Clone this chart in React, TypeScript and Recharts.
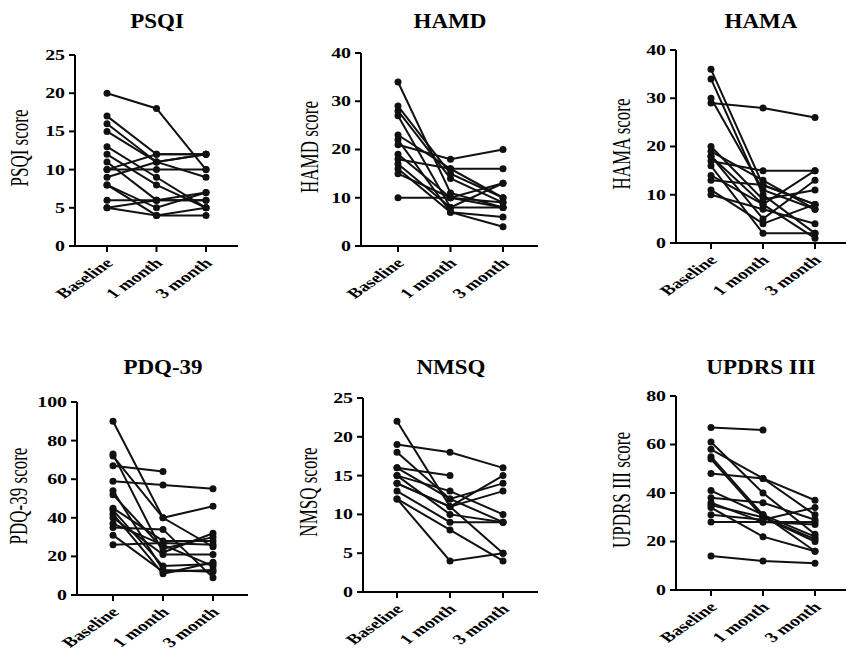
import { CartesianGrid, Line, LineChart, XAxis, YAxis } from "recharts";

const TIMEPOINTS = ["Baseline", "1 month", "3 month"];

// one row per subject: [baseline, 1 month, 3 month]
const PSQI_SUBJECTS: (number | null)[][] = [
  [20, 18, 10],
  [17, 12, 12],
  [16, 11, 9],
  [15, 11, 12],
  [13, 9, 5],
  [12, 8, 5],
  [11, 6, 6],
  [10, 10, 10],
  [10, 12, 12],
  [9, 11, 12],
  [8, 5, 7],
  [8, 4, 4],
  [6, 6, 6],
  [5, 6, 7],
  [5, 4, 5],
];

const HAMD_SUBJECTS: (number | null)[][] = [
  [34, 11, 8],
  [29, 15, 10],
  [28, 14, 9],
  [27, 8, 13],
  [23, 16, 16],
  [22, 7, 4],
  [21, 18, 20],
  [19, 10, 13],
  [18, 16, 10],
  [17, 8, 8],
  [16, 7, 6],
  [15, 10, 8],
  [10, 10, 9],
];

const HAMA_SUBJECTS: (number | null)[][] = [
  [29, 28, 26],
  [36, 12, 8],
  [34, 10, 2],
  [30, 11, 7],
  [17, 15, 15],
  [20, 9, 11],
  [19, 13, 7],
  [18, 5, 13],
  [16, 2, 2],
  [14, 8, 15],
  [13, 12, 8],
  [11, 4, 8],
  [10, 7, 4],
  [18, 8, 1],
];

const PDQ39_SUBJECTS: (number | null)[][] = [
  [67, 64, null],
  [59, 57, 55],
  [90, 40, 46],
  [72, 40, 25],
  [73, 22, 32],
  [54, 13, 12],
  [52, 24, 30],
  [45, 28, 28],
  [42, 11, 17],
  [40, 21, 21],
  [37, 26, 15],
  [35, 34, 9],
  [31, 12, 13],
  [26, 27, 26],
  [44, 15, 16],
];

const NMSQ_SUBJECTS: (number | null)[][] = [
  [22, 11, 5],
  [19, 18, 16],
  [18, 12, 9],
  [16, 15, null],
  [15, 13, 10],
  [14, 11, 15],
  [13, 9, 9],
  [12, 4, 5],
  [12, 8, 4],
  [16, 12, 14],
  [14, 11, 13],
  [15, 10, 9],
];

const UPDRS_SUBJECTS: (number | null)[][] = [
  [67, 66, null],
  [14, 12, 11],
  [61, 40, 23],
  [58, 46, 37],
  [55, 31, 16],
  [54, 30, 21],
  [48, 46, 31],
  [41, 31, 22],
  [38, 36, 29],
  [36, 28, 27],
  [35, 30, 20],
  [34, 22, 16],
  [31, 29, 34],
  [28, 28, 28],
];

const PSQI_TICKS = [0, 5, 10, 15, 20, 25];
const HAMD_TICKS = [0, 10, 20, 30, 40];
const HAMA_TICKS = [0, 10, 20, 30, 40];
const PDQ39_TICKS = [0, 20, 40, 60, 80, 100];
const NMSQ_TICKS = [0, 5, 10, 15, 20, 25];
const UPDRS_TICKS = [0, 20, 40, 60, 80];

const FONT = '"Liberation Serif", "Times New Roman", serif';
const STRETCH = 1.42;

type Panel = {
  title: string;
  label: string;
  subjects: (number | null)[][];
  ticks: number[];
  // pixel geometry of the plot box
  axisX: number;
  top: number;
  bottom: number;
  end: number;
  firstTick: number;
  lastTick: number;
  labelX: number;
  titleY: number;
};

const PANELS: Panel[] = [
  { title: "PSQI", label: "PSQI score", subjects: PSQI_SUBJECTS, ticks: PSQI_TICKS, axisX: 75, top: 55, bottom: 246, end: 238, firstTick: 107, lastTick: 206, labelX: 20, titleY: 21 },
  { title: "HAMD", label: "HAMD score", subjects: HAMD_SUBJECTS, ticks: HAMD_TICKS, axisX: 361, top: 53, bottom: 246, end: 538, firstTick: 398, lastTick: 503, labelX: 310, titleY: 21 },
  { title: "HAMA", label: "HAMA score", subjects: HAMA_SUBJECTS, ticks: HAMA_TICKS, axisX: 676, top: 50, bottom: 243, end: 846, firstTick: 711, lastTick: 815, labelX: 622, titleY: 21 },
  { title: "PDQ-39", label: "PDQ-39 score", subjects: PDQ39_SUBJECTS, ticks: PDQ39_TICKS, axisX: 77, top: 402, bottom: 595, end: 248, firstTick: 113, lastTick: 213, labelX: 19, titleY: 367 },
  { title: "NMSQ", label: "NMSQ score", subjects: NMSQ_SUBJECTS, ticks: NMSQ_TICKS, axisX: 363, top: 398, bottom: 592, end: 538, firstTick: 397, lastTick: 503, labelX: 309, titleY: 367 },
  { title: "UPDRS III", label: "UPDRS III score", subjects: UPDRS_SUBJECTS, ticks: UPDRS_TICKS, axisX: 676, top: 396, bottom: 590, end: 846, firstTick: 711, lastTick: 815, labelX: 622, titleY: 367 },
];

const Y_AXIS_W = 70;
const TOP_PAD = 10;
const X_AXIS_H = 60;

function XTick({ x, y, payload }: any) {
  return (
    <text
      transform={`translate(${x + 7},${y + 10}) scale(${STRETCH},1) rotate(-45)`}
      textAnchor="end"
      fontFamily={FONT}
      fontWeight="bold"
      fontSize={14}
      fill="#000"
    >
      {payload.value}
    </text>
  );
}

function YTick({ x, y, payload }: any) {
  return (
    <text
      transform={`translate(${x},${y}) scale(${STRETCH},1)`}
      textAnchor="end"
      dy="0.35em"
      fontFamily={FONT}
      fontWeight="bold"
      fontSize={14}
      fill="#000"
    >
      {payload.value}
    </text>
  );
}

function SpaghettiPanel({ p }: { p: Panel }) {
  const data = TIMEPOINTS.map((t, i) => {
    const row: Record<string, string | number | null> = { time: t };
    p.subjects.forEach((s, k) => {
      row[`s${k}`] = s[i];
    });
    return row;
  });
  const left = p.axisX - Y_AXIS_W;
  const width = p.end - left;
  const height = TOP_PAD + (p.bottom - p.top) + X_AXIS_H;
  const max = p.ticks[p.ticks.length - 1];

  return (
    <>
      <div style={{ position: "absolute", left, top: p.top - TOP_PAD }}>
        <LineChart width={width} height={height} data={data} margin={{ top: TOP_PAD, right: 0, left: 0, bottom: 0 }}>
          <CartesianGrid stroke="none" />
          <XAxis
            dataKey="time"
            height={X_AXIS_H}
            padding={{ left: p.firstTick - p.axisX, right: p.end - p.lastTick }}
            axisLine={{ stroke: "#000", strokeWidth: 2 }}
            tickLine={{ stroke: "#000", strokeWidth: 2 }}
            tickSize={6}
            tickMargin={2}
            interval={0}
            tick={<XTick />}
          />
          <YAxis
            width={Y_AXIS_W}
            domain={[0, max]}
            ticks={p.ticks}
            allowDataOverflow
            axisLine={{ stroke: "#000", strokeWidth: 2 }}
            tickLine={{ stroke: "#000", strokeWidth: 2 }}
            tickSize={6}
            tickMargin={4}
            tick={<YTick />}
          />
          {p.subjects.map((_, k) => (
            <Line
              key={k}
              type="linear"
              dataKey={`s${k}`}
              stroke="#111"
              strokeWidth={2}
              dot={{ r: 3.5, fill: "#111", stroke: "#111", strokeWidth: 0 }}
              activeDot={false}
              isAnimationActive={false}
            />
          ))}
        </LineChart>
      </div>
      <div style={{ position: "absolute", left: (p.axisX + p.end) / 2, top: p.titleY, width: 0, height: 0 }}>
        <span
          style={{
            position: "absolute",
            left: 0,
            top: 0,
            whiteSpace: "nowrap",
            fontFamily: FONT,
            fontWeight: "bold",
            fontSize: 20,
            lineHeight: "20px",
            transformOrigin: "0 0",
            transform: "scale(1.15,1) translate(-50%,-50%)",
          }}
        >
          {p.title}
        </span>
      </div>
      <div style={{ position: "absolute", left: p.labelX, top: (p.top + p.bottom) / 2 - 3, width: 0, height: 0 }}>
        <span
          style={{
            position: "absolute",
            left: 0,
            top: 0,
            whiteSpace: "nowrap",
            fontFamily: FONT,
            fontSize: 17,
            lineHeight: "17px",
            transformOrigin: "0 0",
            transform: `scale(${STRETCH},1) rotate(-90deg) translate(-50%,-50%)`,
          }}
        >
          {p.label}
        </span>
      </div>
    </>
  );
}

export default function App() {
  return (
    <div
      style={{
        position: "absolute",
        left: 0,
        top: 0,
        width: 846,
        height: 655,
        overflow: "hidden",
        background: "#fff",
        color: "#000",
      }}
    >
      {PANELS.map((p) => (
        <SpaghettiPanel key={p.title} p={p} />
      ))}
    </div>
  );
}
